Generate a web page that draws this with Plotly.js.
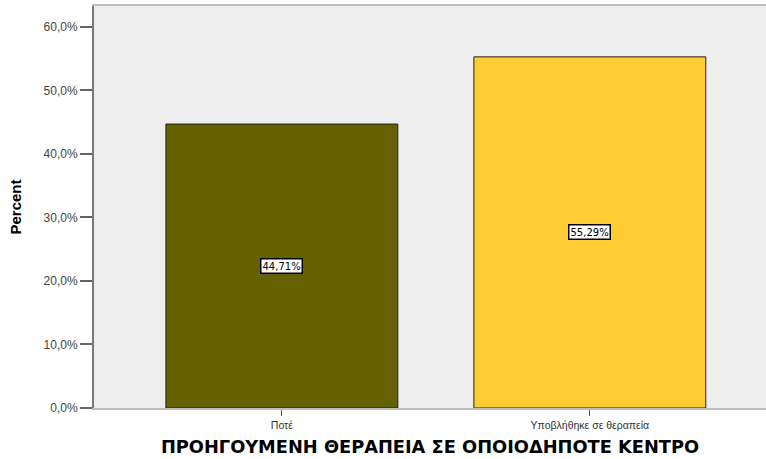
<!DOCTYPE html>
<html>
<head>
<meta charset="utf-8">
<script src="https://cdn.plot.ly/plotly-3.0.1.min.js"></script>
<style>html,body{margin:0;padding:0;background:#fff;}#chart{width:766px;height:459px;}</style>
</head>
<body>
<div id="chart"></div>
<script>
var categories = ["Ποτέ", "Υποβλήθηκε σε θεραπεία"];
var percents = [44.71, 55.29];
var barColors = ["#636100", "#FFCC33"];
var valueLabels = ["44,71%", "55,29%"];
var yTickValues = [0, 10, 20, 30, 40, 50, 60];
var yTickLabels = ["0,0%", "10,0%", "20,0%", "30,0%", "40,0%", "50,0%", "60,0%"];

var trace = {
  type: "bar",
  x: categories,
  y: percents,
  width: 0.753,
  marker: {color: barColors, line: {color: "#222", width: 1}},
  hoverinfo: "none"
};

var annotations = categories.map(function (c, i) {
  return {
    x: c, y: percents[i] / 2, xref: "x", yref: "y",
    text: valueLabels[i], showarrow: false,
    font: {family: "DejaVu Sans, sans-serif", size: 10, color: "#000"},
    bgcolor: "#fff", bordercolor: "#000", borderwidth: 1.5, borderpad: 1
  };
});

var layout = {
  width: 766, height: 459,
  margin: {l: 94, r: 0, t: 6, b: 51},
  paper_bgcolor: "#fff",
  plot_bgcolor: "#EEEEEE",
  separators: ",.",
  showlegend: false,
  bargap: 0,
  xaxis: {
    range: [-0.61, 1.572],
    showline: true, linecolor: "#BDBDBD", linewidth: 2, mirror: true,
    ticks: "outside", ticklen: 6, tickcolor: "#555", tickwidth: 1,
    tickfont: {family: "Liberation Sans, Arial, sans-serif", size: 10.5, color: "#333"},
    title: {text: "ΠΡΟΗΓΟΥΜΕΝΗ ΘΕΡΑΠΕΙΑ ΣΕ ΟΠΟΙΟΔΗΠΟΤΕ ΚΕΝΤΡΟ",
      font: {family: "DejaVu Sans, sans-serif", size: 17.8, color: "#000", weight: "bold"},
      standoff: 11},
    showgrid: false, fixedrange: true
  },
  yaxis: {
    range: [0, 63.3],
    tickmode: "array",
    tickvals: yTickValues,
    ticktext: yTickLabels,
    showline: true, linecolor: "#777", linewidth: 2,
    ticks: "outside", ticklen: 12, tickcolor: "#666", tickwidth: 2,
    tickfont: {family: "Liberation Sans, Arial, sans-serif", size: 12, color: "#444"},
    title: {text: "Percent",
      font: {family: "Liberation Sans, Arial, sans-serif", size: 15, color: "#000", weight: "bold"},
      standoff: 18},
    showgrid: false, zeroline: false, fixedrange: true
  },
  annotations: annotations
};

Plotly.newPlot("chart", [trace], layout, {displayModeBar: false, staticPlot: true});
</script>
</body>
</html>
